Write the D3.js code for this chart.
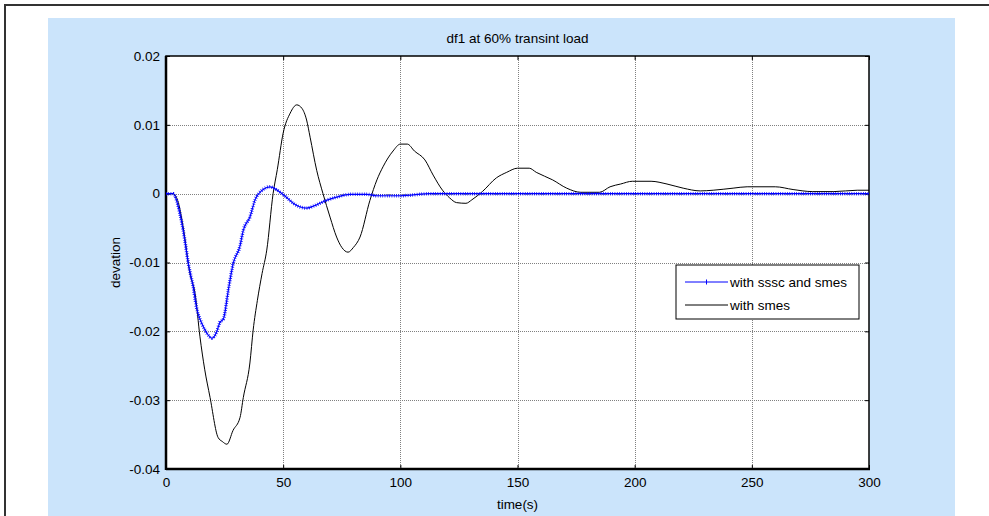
<!DOCTYPE html>
<html lang="en">
<head>
<meta charset="utf-8">
<script src="https://d3js.org/d3.v7.min.js"></script>
<title>df1 at 60% transint load</title>
<style>
  body { margin: 0; background: #fff; }
  text { font-family: "Liberation Sans", Arial, sans-serif; fill: #000; }
</style>
</head>
<body>
<svg width="989" height="516"></svg>
<script>
// time (s) and deviation
var tSmes = [0, 3, 5, 7.3, 10.2, 12.4, 14.5, 16.5, 18.8, 22.2, 24, 26, 28.6, 31.6, 33, 35.8, 37.2, 39, 41, 43,
  45.7, 47.5, 50, 53, 55.8, 58, 60, 61.5, 64.3, 67, 70, 72.8, 75, 77.7, 80, 82.8, 87, 90, 92.6, 96.9,
  100, 103, 106, 110.5, 114, 118, 121, 124, 128, 130.5, 135, 141, 145.4, 150, 155, 158, 165, 171, 177, 185,
  189.5, 194, 199, 207, 213.8, 220.7, 228, 233.5, 242, 248, 260, 267.6, 276, 285, 295, 300];
var vSmes = [0, 0, -0.001, -0.0048, -0.0116, -0.0145, -0.0208, -0.0255, -0.0296, -0.0354, -0.036, -0.0364, -0.0344, -0.0325, -0.0296, -0.0246, -0.0198, -0.0155, -0.0116, -0.0082,
  0, 0.0035, 0.0088, 0.0117, 0.0129, 0.0124, 0.0107, 0.0082, 0.0034, 0, -0.0034, -0.0063, -0.0078, -0.0085, -0.0078, -0.0063, -0.001, 0.002, 0.0039, 0.0062,
  0.0072, 0.0072, 0.0062, 0.0049, 0.0027, 0.0005, -0.0006, -0.0013, -0.0014, -0.0009, 0.0003, 0.0023, 0.0031, 0.0037, 0.0037, 0.0031, 0.002, 0.0008, 0.0002, 0.0002,
  0.001, 0.0014, 0.0018, 0.0018, 0.0014, 0.0008, 0.0004, 0.0005, 0.0008, 0.001, 0.001, 0.0006, 0.0003, 0.0003, 0.0005, 0.0005];

var tSssc = [0, 3, 6, 8, 9.5, 11.6, 13, 15.2, 17.5, 19.6, 21.6, 23, 24.5, 26.6, 28.7, 31.5, 33, 35.8, 38, 41,
  44.4, 46, 48.7, 51, 54.3, 57, 60, 63, 65.7, 69, 72.8, 78.5, 85.8, 90, 100, 113, 300];
var vSssc = [0, 0, -0.003, -0.0067, -0.0101, -0.0135, -0.0165, -0.0188, -0.0203, -0.021, -0.0201, -0.0187, -0.0182, -0.014, -0.0101, -0.0077, -0.0053, -0.0034, -0.0009, 0.0005,
  0.001, 0.0008, 0.0002, -0.0004, -0.0014, -0.0019, -0.0021, -0.0018, -0.0014, -0.0009, -0.0005, -0.0001, -0.0001, -0.0003, -0.0003, 0, 0];

var xTicks = [0, 50, 100, 150, 200, 250, 300];
var yTicks = [0.02, 0.01, 0, -0.01, -0.02, -0.03, -0.04];
var yTickLabels = ["0.02", "0.01", "0", "-0.01", "-0.02", "-0.03", "-0.04"];
var seriesNames = ["with sssc and smes", "with smes"];

var svg = d3.select("svg");
var pl = 166, pr = 869, pt = 56, pb = 469;

// outer frame and blue figure background
svg.append("rect")
  .attr("x", 5).attr("y", 5).attr("width", 1000).attr("height", 520)
  .style("fill", "#fff").style("stroke", "#333").style("stroke-width", 2);
svg.append("rect")
  .attr("x", 48).attr("y", 18).attr("width", 907).attr("height", 510)
  .style("fill", "#cbe4fb");

var x = d3.scaleLinear().domain([0, 300]).range([pl, pr]);
var y = d3.scaleLinear().domain([-0.04, 0.02]).range([pb, pt]);

svg.append("rect")
  .attr("x", pl).attr("y", pt).attr("width", pr - pl).attr("height", pb - pt)
  .style("fill", "#fff");

// dotted grid
var grid = svg.append("g").style("stroke", "#808080").style("stroke-width", 1).style("stroke-dasharray", "1 1");
grid.selectAll(".gx").data(xTicks.slice(1, -1)).enter().append("line")
  .attr("x1", function (d) { return Math.round(x(d)) + 0.5; })
  .attr("x2", function (d) { return Math.round(x(d)) + 0.5; })
  .attr("y1", pt).attr("y2", pb);
grid.selectAll(".gy").data(yTicks.slice(1, -1)).enter().append("line")
  .attr("y1", function (d) { return Math.round(y(d)) + 0.5; })
  .attr("y2", function (d) { return Math.round(y(d)) + 0.5; })
  .attr("x1", pl).attr("x2", pr);

// axes with inward ticks
function styleAxis(g) {
  g.selectAll("path").remove();
  g.selectAll("line").style("stroke", "#000");
  g.selectAll("text").style("font-size", "13.5px").style("font-family", "Liberation Sans, Arial, sans-serif");
}
svg.append("g").attr("transform", "translate(0," + pb + ")")
  .call(d3.axisBottom(x).tickValues(xTicks).tickSizeInner(-4).tickPadding(8).tickFormat(d3.format("d")))
  .call(styleAxis);
svg.append("g").attr("transform", "translate(" + pl + ",0)")
  .call(d3.axisLeft(y).tickValues(yTicks).tickSizeInner(-4).tickPadding(6)
    .tickFormat(function (d, i) { return yTickLabels[i]; }))
  .call(styleAxis);
svg.append("g").attr("transform", "translate(0," + pt + ")")
  .call(d3.axisTop(x).tickValues(xTicks).tickSizeInner(-4).tickFormat(""))
  .call(styleAxis);
svg.append("g").attr("transform", "translate(" + pr + ",0)")
  .call(d3.axisRight(y).tickValues(yTicks).tickSizeInner(-4).tickFormat(""))
  .call(styleAxis);

// plot box
svg.append("rect")
  .attr("x", pl).attr("y", pt).attr("width", pr - pl).attr("height", pb - pt)
  .style("fill", "none").style("stroke", "#000").style("stroke-width", 1.5);
svg.append("line").attr("x1", pl).attr("x2", pl).attr("y1", pt).attr("y2", pb + 1)
  .style("stroke", "#000").style("stroke-width", 2.5);
svg.append("line").attr("x1", pl).attr("x2", pr + 1).attr("y1", pb).attr("y2", pb)
  .style("stroke", "#000").style("stroke-width", 2.5);

// curves
svg.append("clipPath").attr("id", "plot").append("rect")
  .attr("x", pl).attr("y", pt).attr("width", pr - pl).attr("height", pb - pt);

var line = d3.line()
  .x(function (d) { return x(d[0]); })
  .y(function (d) { return y(d[1]); })
  .curve(d3.curveMonotoneX);

var smes = d3.zip(tSmes, vSmes);
var sssc = d3.zip(tSssc, vSssc);

svg.append("path").datum(smes)
  .attr("d", line).attr("clip-path", "url(#plot)")
  .style("fill", "none").style("stroke", "#000").style("stroke-width", 1);

// blue line plus dense "+" markers drawn as short cross bars
svg.append("path").datum(sssc)
  .attr("d", line).attr("clip-path", "url(#plot)")
  .style("fill", "none").style("stroke", "#0000ff").style("stroke-width", 1.2);
svg.append("path").datum(sssc)
  .attr("d", line).attr("clip-path", "url(#plot)")
  .style("fill", "none").style("stroke", "#0000ff").style("stroke-width", 3.5)
  .style("stroke-dasharray", "0.7 1.6");

// title and axis labels
svg.append("text").attr("x", (pl + pr) / 2).attr("y", 43)
  .attr("text-anchor", "middle").style("font-size", "13.5px").text("df1 at 60% transint load");
svg.append("text").attr("x", (pl + pr) / 2).attr("y", 509)
  .attr("text-anchor", "middle").style("font-size", "13.5px").text("time(s)");
svg.append("text").attr("transform", "translate(120," + (pt + pb) / 2 + ")rotate(-90)")
  .attr("text-anchor", "middle").style("font-size", "13.5px").text("devation");

// legend
var lg = svg.append("g").attr("transform", "translate(676,265)");
lg.append("rect").attr("width", 183).attr("height", 54)
  .style("fill", "#fff").style("stroke", "#000").style("stroke-width", 1);
var colors = ["#0000ff", "#000"];
seriesNames.forEach(function (name, i) {
  var yy = 17 + i * 23;
  lg.append("line").attr("x1", 9).attr("x2", 52).attr("y1", yy).attr("y2", yy)
    .style("stroke", colors[i]).style("stroke-width", 1);
  if (i === 0) {
    lg.append("line").attr("x1", 30.5).attr("x2", 30.5).attr("y1", yy - 2.5).attr("y2", yy + 2.5)
      .style("stroke", colors[i]).style("stroke-width", 1);
  }
  lg.append("text").attr("x", 54).attr("y", yy + 5).style("font-size", "13.5px").text(name);
});
</script>
</body>
</html>
